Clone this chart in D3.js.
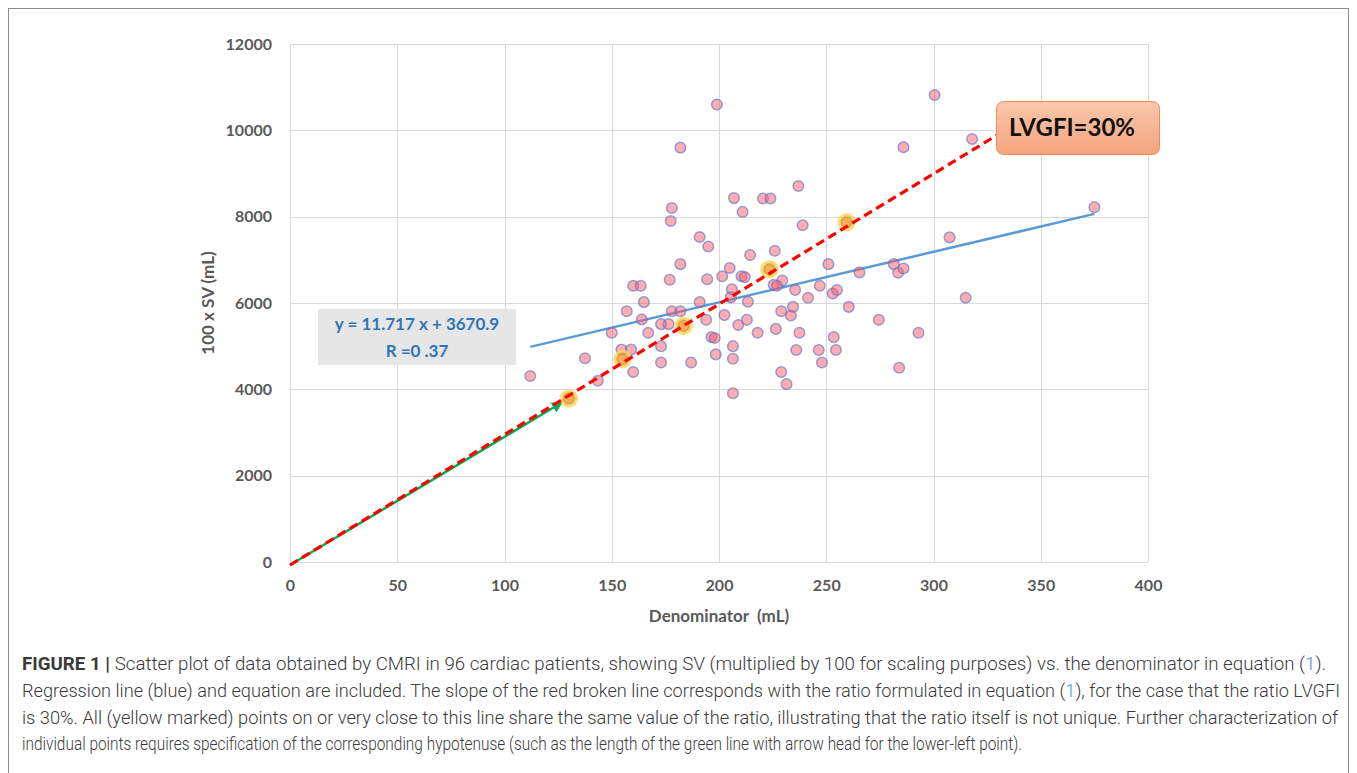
<!DOCTYPE html>
<html>
<head>
<meta charset="utf-8">
<script src="https://cdn.jsdelivr.net/npm/d3@7"></script>
<style>
  html, body { margin: 0; padding: 0; background: #fff; }
  svg { display: block; }
  .pre { white-space: pre; }
</style>
</head>
<body>
<svg id="fig" width="1357" height="773"></svg>
<script>
// Denominator (mL) and 100 x SV (mL) for each patient
const denominator = [
  199, 182, 207, 211, 178, 177.5, 191, 195, 214.5, 182, 205, 201.5, 210.5, 212, 177, 194.5,
  300.5, 318, 286, 237, 220.5, 224, 239, 226, 251, 307.5, 265.5, 281.5, 283.5, 286, 229.5,
  160, 163.5, 206, 205.5, 213.5, 165, 157, 178, 182, 191, 164, 150, 167, 173, 176.5, 194,
  202.5, 209, 213, 196.5, 198, 173, 154.5, 159, 137.5, 160, 173, 187, 198.5, 206.5, 206.5,
  206.5, 143.5, 112, 225.5, 227, 235.5, 247, 253, 255, 241.5, 234.5, 233.5, 229, 260.5, 218,
  226.5, 237.5, 253.5, 274.5, 293, 315, 236, 246.5, 254.5, 248, 284, 229, 231.5, 375
];
const sv100 = [
  10600, 9600, 8430, 8110, 8200, 7900, 7530, 7310, 7110, 6900, 6810, 6620, 6620, 6600, 6540, 6550,
  10820, 9800, 9610, 8710, 8420, 8420, 7800, 7210, 6900, 7520, 6710, 6900, 6700, 6800, 6520,
  6400, 6400, 6320, 6130, 6030, 6020, 5810, 5810, 5810, 6020, 5620, 5310, 5310, 5510, 5510, 5610,
  5720, 5490, 5610, 5210, 5190, 5000, 4920, 4920, 4720, 4400, 4620, 4620, 4810, 5000, 4710,
  3910, 4200, 4310, 6420, 6400, 6300, 6400, 6220, 6300, 6120, 5910, 5710, 5810, 5910, 5310,
  5400, 5310, 5210, 5610, 5310, 6120, 4910, 4910, 4910, 4620, 4500, 4400, 4120, 8220
];
// Patients lying on (or very close to) the LVGFI = 30% line
const markedDenominator = [130, 155, 183.5, 223.5, 259.5];
const markedSv100 = [3790, 4700, 5470, 6780, 7870];

// Regression line and ratio line
const regSlope = 11.717, regIntercept = 3670.9;
const regRange = [112, 375];
const ratioSlope = 30;          // 100 x SV / denominator for LVGFI = 30 %
const ratioRange = [0, 330];

const xTicks = [0, 50, 100, 150, 200, 250, 300, 350, 400];
const yTicks = [0, 2000, 4000, 6000, 8000, 10000, 12000];

const equationLines = ["y = 11.717 x + 3670.9", "R =0 .37"];
const ratioLabel = "LVGFI=30%";
const xTitle = "Denominator  (mL)";
const yTitle = "100 x SV (mL)";

const captionLines = [
  [{t: "FIGURE 1 | ", b: true}, {t: "Scatter plot of data obtained by CMRI in 96 cardiac patients, showing SV (multiplied by 100 for scaling purposes) vs. the denominator in equation ("}, {t: "1", link: true}, {t: ")."}],
  [{t: "Regression line (blue) and equation are included. The slope of the red broken line corresponds with the ratio formulated in equation ("}, {t: "1", link: true}, {t: "), for the case that the ratio LVGFI"}],
  [{t: "is 30%. All (yellow marked) points on or very close to this line share the same value of the ratio, illustrating that the ratio itself is not unique. Further characterization of"}],
  [{t: "individual points requires specification of the corresponding hypotenuse (such as the length of the green line with arrow head for the lower-left point)."}]
];
const captionWidths = [1304, 1318, 1316, 1000];

const svg = d3.select("#fig");

// outer figure frame
svg.append("rect")
  .attr("x", 8.5).attr("y", 8.5).attr("width", 1340).attr("height", 800)
  .attr("fill", "none").attr("stroke", "#8c8c8c").attr("stroke-width", 1);

const plot = {left: 290, right: 1148, top: 44, bottom: 562};
const x = d3.scaleLinear().domain([0, 400]).range([plot.left, plot.right]);
const y = d3.scaleLinear().domain([0, 12000]).range([plot.bottom, plot.top]);

// gridlines
const grid = svg.append("g").attr("stroke", "#d9d9d9").attr("stroke-width", 1);
grid.selectAll("line.v").data(xTicks).join("line")
  .attr("x1", d => Math.round(x(d)) + 0.5).attr("x2", d => Math.round(x(d)) + 0.5)
  .attr("y1", plot.top).attr("y2", plot.bottom);
grid.selectAll("line.h").data(yTicks).join("line")
  .attr("y1", d => Math.round(y(d)) + 0.5).attr("y2", d => Math.round(y(d)) + 0.5)
  .attr("x1", plot.left).attr("x2", plot.right);

// axes (labels only, Excel style)
const tickFont = "Lato, 'Open Sans', sans-serif";
const xAxis = svg.append("g").attr("transform", `translate(0,${plot.bottom})`)
  .call(d3.axisBottom(x).tickValues(xTicks).tickSize(0).tickPadding(18).tickFormat(d3.format("d")));
const yAxis = svg.append("g").attr("transform", `translate(${plot.left},0)`)
  .call(d3.axisLeft(y).tickValues(yTicks).tickSize(0).tickPadding(18).tickFormat(d3.format("d")));
[xAxis, yAxis].forEach(a => {
  a.select(".domain").remove();
  a.selectAll("text").attr("fill", "#595959").attr("font-family", tickFont)
    .attr("font-weight", "bold").attr("font-size", 16);
});

svg.append("text").attr("class", "pre").attr("x", 719).attr("y", 622).attr("text-anchor", "middle")
  .attr("font-family", tickFont).attr("font-weight", "bold").attr("font-size", 17)
  .attr("fill", "#595959").text(xTitle);
svg.append("text").attr("transform", "translate(214,303) rotate(-90)").attr("text-anchor", "middle")
  .attr("font-family", tickFont).attr("font-weight", "bold").attr("font-size", 17)
  .attr("fill", "#595959").text(yTitle);

// arrow marker for the hypotenuse
svg.append("defs").append("marker")
  .attr("id", "arrowGreen").attr("viewBox", "0 0 10 10").attr("refX", 8).attr("refY", 5)
  .attr("markerWidth", 4.5).attr("markerHeight", 4.5).attr("orient", "auto")
  .append("path").attr("d", "M0,0 L10,5 L0,10 Z").attr("fill", "#00B050");

// green hypotenuse to the lower-left marked point
const gx0 = x(0), gy0 = y(0);
const gx1 = x(markedDenominator[0]), gy1 = y(markedSv100[0]);
const glen = Math.hypot(gx1 - gx0, gy1 - gy0);
const gShort = 9;
svg.append("line")
  .attr("x1", gx0).attr("y1", gy0 + 3)
  .attr("x2", gx0 + (gx1 - gx0) * (glen - gShort) / glen)
  .attr("y2", gy0 + (gy1 - gy0) * (glen - gShort) / glen)
  .attr("stroke", "#00B050").attr("stroke-width", 2.5)
  .attr("marker-end", "url(#arrowGreen)");

// regression line
svg.append("line")
  .attr("x1", x(regRange[0])).attr("y1", y(regSlope * regRange[0] + regIntercept))
  .attr("x2", x(regRange[1])).attr("y2", y(regSlope * regRange[1] + regIntercept))
  .attr("stroke", "#5B9BD5").attr("stroke-width", 2.5);

// scatter points
const pts = denominator.map((d, i) => ({d, v: sv100[i]}))
  .concat(markedDenominator.map((d, i) => ({d, v: markedSv100[i]})));
svg.append("g").selectAll("circle").data(pts).join("circle")
  .attr("cx", p => x(p.d)).attr("cy", p => y(p.v)).attr("r", 5.3)
  .attr("fill", "#FF5A68").attr("fill-opacity", 0.5)
  .attr("stroke", "#6078C8").attr("stroke-opacity", 0.65).attr("stroke-width", 1.5);

// yellow marks on the ratio line
svg.append("g").selectAll("circle").data(markedDenominator.map((d, i) => ({d, v: markedSv100[i]}))).join("circle")
  .attr("cx", p => x(p.d)).attr("cy", p => y(p.v)).attr("r", 8)
  .attr("fill", "#FFB000").attr("fill-opacity", 0.55)
  .attr("stroke", "#FFD966").attr("stroke-opacity", 0.8).attr("stroke-width", 2.5);

// LVGFI = 30 % line
svg.append("line")
  .attr("x1", x(ratioRange[0])).attr("y1", y(ratioSlope * ratioRange[0]) + 3)
  .attr("x2", x(ratioRange[1])).attr("y2", y(ratioSlope * ratioRange[1]))
  .attr("stroke", "#FF0000").attr("stroke-width", 3.2).attr("stroke-dasharray", "9,5");

// regression equation box
svg.append("rect").attr("x", 318).attr("y", 309).attr("width", 198).attr("height", 56).attr("fill", "#e6e6e6");
svg.append("g").selectAll("text").data(equationLines).join("text")
  .attr("x", 417).attr("y", (d, i) => 330 + i * 27).attr("text-anchor", "middle")
  .attr("font-family", tickFont).attr("font-weight", "bold").attr("font-size", 17)
  .attr("fill", "#2E75B6").text(d => d);

// ratio label box
const grad = svg.select("defs").append("linearGradient").attr("id", "boxGrad")
  .attr("x1", 0).attr("y1", 0).attr("x2", 0).attr("y2", 1);
grad.append("stop").attr("offset", 0).attr("stop-color", "#F9C7AB");
grad.append("stop").attr("offset", 1).attr("stop-color", "#F4A47E");
svg.append("rect").attr("x", 996.5).attr("y", 101.5).attr("width", 163).attr("height", 53)
  .attr("rx", 7).attr("fill", "url(#boxGrad)").attr("stroke", "#F08C58").attr("stroke-width", 1);
svg.append("text").attr("x", 1072).attr("y", 136).attr("text-anchor", "middle")
  .attr("font-family", tickFont).attr("font-weight", "bold").attr("font-size", 24)
  .attr("fill", "#111").text(ratioLabel);

// caption, condensed to the column width
const cap = svg.append("g").attr("font-family", "Roboto, 'Liberation Sans', sans-serif")
  .attr("font-size", 18).attr("font-weight", 300).attr("fill", "#3a3a3a");
captionLines.forEach((line, i) => {
  const t = cap.append("text").attr("x", 22).attr("y", 670 + i * 26.8)
    .attr("textLength", captionWidths[i]).attr("lengthAdjust", "spacingAndGlyphs");
  line.forEach(seg => {
    t.append("tspan").text(seg.t)
      .attr("font-weight", seg.b ? "bold" : null)
      .attr("fill", seg.link ? "#4a90d9" : null);
  });
});
</script>
</body>
</html>
